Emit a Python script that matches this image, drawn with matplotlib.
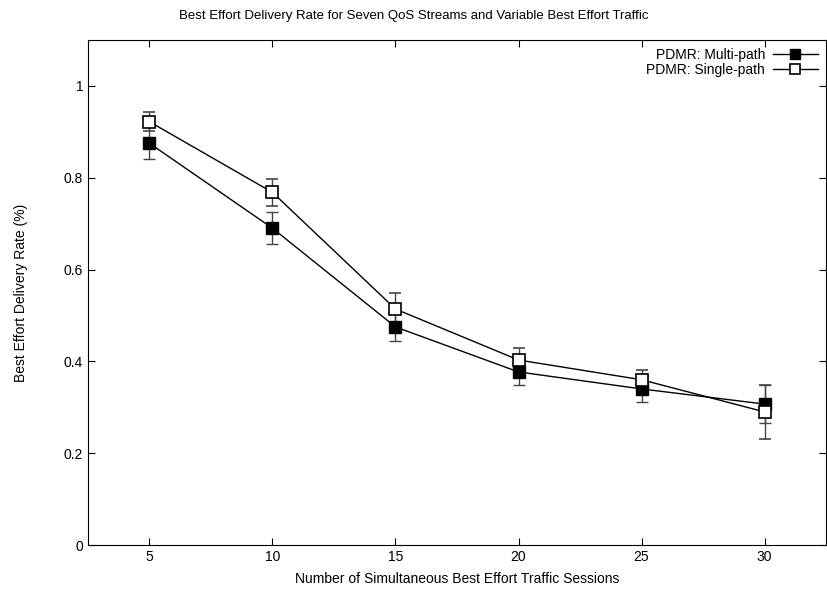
import matplotlib
matplotlib.use("Agg")
import matplotlib.pyplot as plt

plt.rcParams['font.family'] = ['Liberation Sans', 'DejaVu Sans']

sessions = [5, 10, 15, 20, 25, 30]
multi = [0.875, 0.690, 0.475, 0.377, 0.340, 0.307]
multi_err = [0.035, 0.035, 0.031, 0.028, 0.028, 0.042]
single = [0.922, 0.768, 0.514, 0.403, 0.360, 0.290]
single_err = [0.021, 0.029, 0.035, 0.026, 0.022, 0.059]
yticks = [0, 0.2, 0.4, 0.6, 0.8, 1]
ytick_labels = ['0', '0.2', '0.4', '0.6', '0.8', '1']

fig = plt.figure(figsize=(8.27, 5.98), dpi=100)
ax = fig.add_axes([0.1064, 0.0886, 0.8924, 0.8445])

c1 = ax.errorbar(sessions, multi, yerr=multi_err, color='black', lw=1.0,
                 marker='s', ms=9.2, mfc='black', mec='black',
                 ecolor='#444444', elinewidth=1.0, capsize=4, capthick=1.0,
                 label='PDMR: Multi-path')
c2 = ax.errorbar(sessions, single, yerr=single_err, color='black', lw=1.0,
                 marker='s', ms=9.2, mfc='white', mec='black', mew=1.2,
                 ecolor='#444444', elinewidth=1.0, capsize=4, capthick=1.0,
                 label='PDMR: Single-path')

ax.set_xlim(2.5, 32.5)
ax.set_ylim(0, 1.1)
ax.set_xticks(sessions)
ax.set_yticks(yticks)
ax.set_yticklabels(ytick_labels)
ax.tick_params(direction='in', top=True, right=True, labelsize=10, length=5)

ax.set_xlabel('Number of Simultaneous Best Effort Traffic Sessions', fontsize=10, labelpad=6)
ax.set_ylabel('Best Effort Delivery Rate (%)', fontsize=10, labelpad=26)
fig.text(0.5, 0.973, 'Best Effort Delivery Rate for Seven QoS Streams and Variable Best Effort Traffic',
         ha='center', va='center', fontsize=9.5)

leg = ax.legend(handles=[c1.lines[0], c2.lines[0]],
                labels=['PDMR: Multi-path', 'PDMR: Single-path'],
                loc='upper right', markerfirst=False, frameon=False, fontsize=10,
                handlelength=3.2, borderaxespad=0.2, labelspacing=0.05, handletextpad=0.6,
                markerscale=0.85)

fig.savefig('out.png', dpi=100)
